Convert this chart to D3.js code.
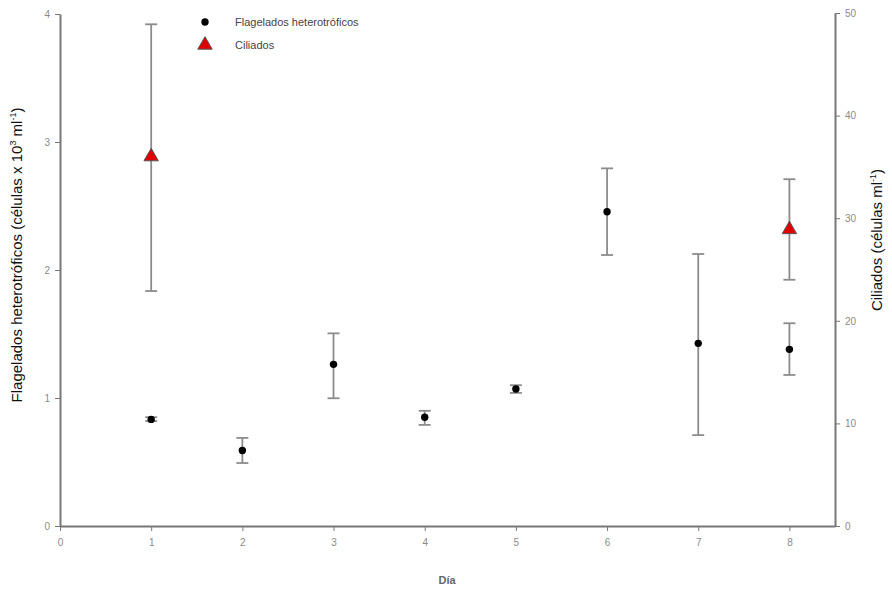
<html>
<head>
<style>
  body { margin: 0; background: #fff; }
  text { font-family: Arial, "Liberation Sans", sans-serif; }
  .tick text { fill: #8a8a8a; font-size: 10px; }
  .axis path, .axis line { stroke: #777; }
</style>
</head>
<body>
<svg id="chart" width="892" height="593"></svg>
<script src="https://d3js.org/d3.v7.min.js"></script>
<script>
var days = [1, 2, 3, 4, 5, 6, 7, 8];
var flagMean = [0.833, 0.59, 1.263, 0.85, 1.07, 2.455, 1.427, 1.38];
var flagLow  = [0.82, 0.492, 0.998, 0.79, 1.04, 2.117, 0.71, 1.18];
var flagHigh = [0.85, 0.688, 1.505, 0.90, 1.10, 2.794, 2.125, 1.584];

var ciliDays = [1, 8];
var ciliMean = [36.0, 28.9];
var ciliLow  = [22.9, 24.0];
var ciliHigh = [48.9, 33.8];

var xTicks = [0, 1, 2, 3, 4, 5, 6, 7, 8];
var leftTicks = [0, 1, 2, 3, 4];
var rightTicks = [0, 10, 20, 30, 40, 50];

var svg = d3.select('#chart');

var x = d3.scaleLinear().domain([0, 8.5]).range([60, 835]);
var yL = d3.scaleLinear().domain([0, 4]).range([526, 14]);
var yR = d3.scaleLinear().domain([0, 50]).range([526, 13]);
var fmt = d3.format('d');

// axes
svg.append('g').attr('class', 'axis')
    .attr('transform', 'translate(0,526)')
    .call(d3.axisBottom(x).tickValues(xTicks).tickFormat(fmt).tickSize(5).tickPadding(8).tickSizeOuter(0))
    .call(function(g) { g.select('.domain').attr('stroke-width', 2); });

svg.append('g').attr('class', 'axis')
    .attr('transform', 'translate(60,0)')
    .call(d3.axisLeft(yL).tickValues(leftTicks).tickFormat(fmt).tickSize(5).tickPadding(5).tickSizeOuter(0))
    .call(function(g) { g.select('.domain').attr('stroke-width', 2); });

svg.append('g').attr('class', 'axis')
    .attr('transform', 'translate(835,0)')
    .call(d3.axisRight(yR).tickValues(rightTicks).tickFormat(fmt).tickSize(5).tickPadding(5).tickSizeOuter(0))
    .call(function(g) { g.select('.domain').attr('stroke-width', 2); });

// error bars
function errorBars(xs, lo, hi, scale) {
    var g = svg.append('g').attr('stroke', '#8c8c8c').attr('stroke-width', 1.8);
    xs.forEach(function(d, i) {
        g.append('line')
            .attr('x1', x(d)).attr('x2', x(d))
            .attr('y1', scale(lo[i])).attr('y2', scale(hi[i]));
        [lo[i], hi[i]].forEach(function(v) {
            g.append('line')
                .attr('x1', x(d) - 6).attr('x2', x(d) + 6)
                .attr('y1', scale(v)).attr('y2', scale(v));
        });
    });
}
errorBars(days, flagLow, flagHigh, yL);
errorBars(ciliDays, ciliLow, ciliHigh, yR);

// points
svg.append('g').selectAll('circle')
    .data(days)
    .enter().append('circle')
    .attr('cx', function(d) { return x(d); })
    .attr('cy', function(d, i) { return yL(flagMean[i]); })
    .attr('r', 3.7)
    .attr('fill', '#000');

var tri = d3.symbol().type(d3.symbolTriangle).size(90);
svg.append('g').selectAll('path')
    .data(ciliDays)
    .enter().append('path')
    .attr('d', tri)
    .attr('transform', function(d, i) { return 'translate(' + x(d) + ',' + yR(ciliMean[i]) + ')'; })
    .attr('fill', '#e00000')
    .attr('stroke', '#555')
    .attr('stroke-width', 1);

// legend
svg.append('circle').attr('cx', 205).attr('cy', 22).attr('r', 3.7).attr('fill', '#000');
svg.append('text').attr('x', 235).attr('y', 26).attr('font-size', 11).attr('fill', '#444')
    .text('Flagelados heterotróficos');
svg.append('path').attr('d', tri).attr('transform', 'translate(205,45)')
    .attr('fill', '#e00000').attr('stroke', '#555');
svg.append('text').attr('x', 235).attr('y', 49).attr('font-size', 11).attr('fill', '#444')
    .text('Ciliados');

// axis titles
var lt = svg.append('text')
    .attr('transform', 'translate(22,255) rotate(-90)')
    .attr('text-anchor', 'middle').attr('font-size', 15).attr('fill', '#111');
lt.append('tspan').text('Flagelados heterotróficos (células x 10');
lt.append('tspan').attr('dy', -6).attr('font-size', 9).text('3');
lt.append('tspan').attr('dy', 6).text(' ml');
lt.append('tspan').attr('dy', -6).attr('font-size', 9).text('-1');
lt.append('tspan').attr('dy', 6).text(')');

var rt = svg.append('text')
    .attr('transform', 'translate(882,240) rotate(-90)')
    .attr('text-anchor', 'middle').attr('font-size', 15).attr('fill', '#111');
rt.append('tspan').text('Ciliados (células ml');
rt.append('tspan').attr('dy', -6).attr('font-size', 9).text('-1');
rt.append('tspan').attr('dy', 6).text(')');

svg.append('text').attr('x', 447).attr('y', 584).attr('text-anchor', 'middle')
    .attr('font-size', 11).attr('font-weight', 'bold').attr('fill', '#666').text('Día');
</script>
</body>
</html>
